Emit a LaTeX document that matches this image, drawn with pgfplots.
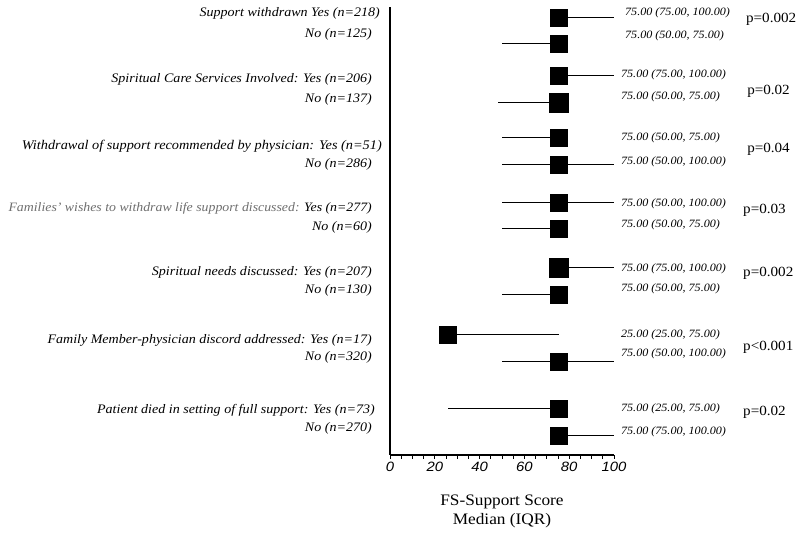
\documentclass[border=0pt]{standalone}
\usepackage{pgfplots}
\pgfplotsset{compat=1.18}
\usepackage{pgfplotstable}
\usepackage{fontspec}
\setmainfont{Liberation Serif}[FakeStretch=1.08]
\newfontfamily\arial{Liberation Sans}[FakeStretch=1.1]
\definecolor{lgray}{RGB}{110,110,110}

% median, lower quartile, upper quartile, y (row position), error plus, error minus
\pgfplotstableread{
m   lo  hi   y     ep  em
75  75  100  -17.7 25  0
75  50  75   -44   0   25
75  75  100  -76   25  0
75  48  75   -103  0   27
75  50  75   -138  0   25
75  50  100  -165  25  25
75  50  100  -203  25  25
75  50  75   -229  0   25
75  75  100  -268  25  0
75  50  75   -295  0   25
26  26  75.5 -335  49.5 0
75  50  100  -362  25  25
75  26  75   -409  0   49
75  75  100  -436  25  0
}\data

\begin{document}
\begin{tikzpicture}[x=1pt,y=1pt]
\useasboundingbox (0,0) rectangle (800,537);
\begin{axis}[
  at={(390pt,82pt)}, anchor=south west,
  scale only axis, width=224pt, height=448pt,
  xmin=0, xmax=100, ymin=-455, ymax=-7,
  axis x line*=bottom, axis y line*=left,
  axis line style={-, line width=1.3pt},
  ytick=\empty,
  xtick={0,20,...,100}, minor tick num=3,
  tick align=outside, major tick length=4pt, minor tick length=4pt,
  tick style={line width=0.9pt, black},
  xticklabel style={font=\arial\itshape\fontsize{13.5}{13.5}\selectfont},
  /pgf/number format/assume math mode=true,
  xlabel={FS-Support Score\\Median (IQR)},
  xlabel style={align=center, font=\fontsize{16}{19}\selectfont, yshift=-16pt},
  clip=false,
]
\addplot[draw=none, mark=none, forget plot,
  error bars/.cd, x dir=both, x explicit, error mark=none,
  error bar style={black, line width=1pt}]
  table[x=m, y=y, x error plus=ep, x error minus=em]{\data};
\addplot[only marks, mark=square*, mark size=8.6pt, black, mark options={line width=0pt}]
  coordinates {(75.4,-17.7)(75.4,-44)(75.4,-76)(75.4,-138)(75.4,-165)(75.4,-203)(75.4,-229)(75.4,-295)(26,-335)(75.4,-362)(75.4,-409)(75.4,-436)};
\addplot[only marks, mark=square*, mark size=9.5pt, black, mark options={line width=0pt}]
  coordinates {(75.4,-103)(75.4,-268)};

% left labels
\begin{scope}[every node/.style={anchor=east, inner sep=0pt, font=\itshape\fontsize{13}{13}\selectfont}]
\node at (axis cs:-4.46,-13) {Support withdrawn Yes (n=218)};
\node at (axis cs:-8.04,-34) {No (n=125)};
\node at (axis cs:-8.04,-79) {Spiritual Care Services Involved: Yes (n=206)};
\node at (axis cs:-8.04,-99) {No (n=137)};
\node[font=\itshape\fontsize{13.25}{13.25}\selectfont] at (axis cs:-3.57,-146) {Withdrawal of support recommended by physician: Yes (n=51)};
\node at (axis cs:-8.04,-164) {No (n=286)};
\node[font=\itshape\fontsize{12.8}{12.8}\selectfont] at (axis cs:-8.04,-208) {\textcolor{lgray}{Families' wishes to withdraw life support discussed:} Yes (n=277)};
\node at (axis cs:-8.04,-227) {No (n=60)};
\node at (axis cs:-8.04,-272) {Spiritual needs discussed: Yes (n=207)};
\node at (axis cs:-8.04,-290) {No (n=130)};
\node at (axis cs:-8.04,-340) {Family Member-physician discord addressed: Yes (n=17)};
\node at (axis cs:-8.04,-357) {No (n=320)};
\node at (axis cs:-6.7,-410) {Patient died in setting of full support: Yes (n=73)};
\node at (axis cs:-8.04,-428) {No (n=270)};
\end{scope}

% right value labels
\begin{scope}[every node/.style={anchor=west, inner sep=0pt, font=\itshape\fontsize{11.2}{11.2}\selectfont}]
\node at (axis cs:104.9,-13) {75.00 (75.00, 100.00)};
\node at (axis cs:104.9,-36) {75.00 (50.00, 75.00)};
\node at (axis cs:103.1,-75) {75.00 (75.00, 100.00)};
\node at (axis cs:103.1,-97) {75.00 (50.00, 75.00)};
\node at (axis cs:103.1,-138) {75.00 (50.00, 75.00)};
\node at (axis cs:103.1,-162) {75.00 (50.00, 100.00)};
\node at (axis cs:103.1,-204) {75.00 (50.00, 100.00)};
\node at (axis cs:103.1,-225) {75.00 (50.00, 75.00)};
\node at (axis cs:103.1,-269) {75.00 (75.00, 100.00)};
\node at (axis cs:103.1,-289) {75.00 (50.00, 75.00)};
\node at (axis cs:103.1,-335) {25.00 (25.00, 75.00)};
\node at (axis cs:103.1,-354) {75.00 (50.00, 100.00)};
\node at (axis cs:103.1,-409) {75.00 (25.00, 75.00)};
\node at (axis cs:103.1,-432) {75.00 (75.00, 100.00)};
\end{scope}

% p-values
\begin{scope}[every node/.style={anchor=west, inner sep=0pt, font=\fontsize{14}{14}\selectfont}]
\node at (axis cs:158.9,-19) {p=0.002};
\node at (axis cs:159.4,-91) {p=0.02};
\node at (axis cs:159.4,-149) {p=0.04};
\node at (axis cs:157.6,-210) {p=0.03};
\node at (axis cs:157.6,-273) {p=0.002};
\node at (axis cs:157.6,-347) {p<0.001};
\node at (axis cs:157.6,-412) {p=0.02};
\end{scope}
\end{axis}
\end{tikzpicture}
\end{document}
